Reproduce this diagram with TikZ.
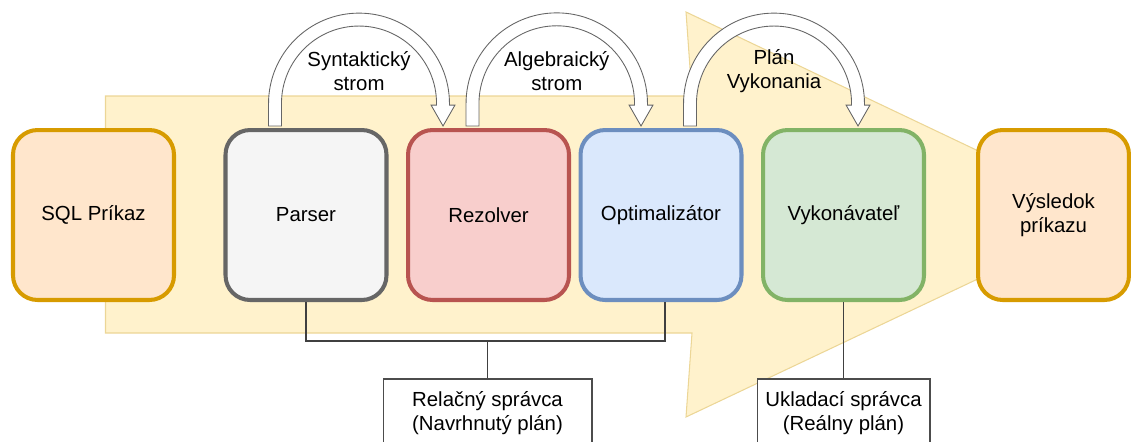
\documentclass[tikz,border=0pt]{standalone}
\usepackage{fontspec}
\setmainfont{Liberation Sans}
\usetikzlibrary{calc}

\definecolor{orangefill}{RGB}{255, 230, 204}
\definecolor{orangeline}{RGB}{215, 155, 0}
\definecolor{grayfill}{RGB}{245, 245, 245}
\definecolor{grayline}{RGB}{102, 102, 102}
\definecolor{redfill}{RGB}{248, 206, 204}
\definecolor{redline}{RGB}{184, 84, 80}
\definecolor{bluefill}{RGB}{218, 232, 252}
\definecolor{blueline}{RGB}{108, 142, 191}
\definecolor{greenfill}{RGB}{213, 232, 212}
\definecolor{greenline}{RGB}{130, 179, 102}
\definecolor{flowfill}{RGB}{255, 242, 204}
\definecolor{flowline}{RGB}{236, 214, 150}

\newcommand{\diafont}{\fontsize{11.6}{13.6}\selectfont}

\tikzset{
  stage/.style={draw, rounded corners=14pt, line width=2.3pt, minimum width=3.22cm,
    minimum height=3.4cm, align=center, font=\diafont},
  manager/.style={draw=black!70, fill=white, line width=0.6pt, minimum height=1.36cm,
    align=center, font=\diafont},
  hollow/.style={draw=black!60, fill=white, line width=0.5pt},
  archlabel/.style={align=center, font=\diafont, inner sep=0pt},
  wire/.style={draw=black!75, line width=0.8pt}
}

\begin{document}
\begin{tikzpicture}[x=0.02cm, y=0.02cm]
    \useasboundingbox (0,0) rectangle (1131,441);
    \clip (0,0) rectangle (1131,441);

    % big flow arrow in the back
    \filldraw[fill=flowfill, draw=flowline, line width=0.6pt]
        (105.5,345) -- (692,345) -- (686,429) -- (1113,226) -- (686,24)
        -- (692,108) -- (105.5,108) -- cycle;

    % stages
    \node[stage, fill=orangefill, draw=orangeline] (sql) at (93.5,226) {SQL Príkaz};
    \node[stage, fill=grayfill, draw=grayline] (parser) at (306,226) {Parser};
    \node[stage, fill=redfill, draw=redline] (rezolver) at (488.5,226) {Rezolver};
    \node[stage, fill=bluefill, draw=blueline] (optim) at (661,226) {Optimalizátor};
    \node[stage, fill=greenfill, draw=greenline] (vykon) at (843.5,226) {Vykonávateľ};
    \node[stage, fill=orangefill, draw=orangeline, minimum width=3.02cm] (vysledok)
        at (1053.5,226) {Výsledok\\príkazu};

    % feet and tips of the hollow arcs
    \coordinate (s1) at ($(parser.north)+(-31,2)$);
    \coordinate (e1) at ($(rezolver.north)+(-45.5,2)$);
    \coordinate (s2) at ($(rezolver.north)+(-16,2)$);
    \coordinate (e2) at ($(optim.north)+(-20,2)$);
    \coordinate (s3) at ($(optim.north)+(29,2)$);
    \coordinate (e3) at ($(vykon.north)+(14.5,2)$);

    \foreach \a/\b in {s1/e1, s2/e2, s3/e3}{
        \draw[hollow] let \p1=(\a), \p2=(\b), \n1={0.5*(\x2-\x1)} in
            (\x1-3.68pt,\y1) -- (\x1-3.68pt,\y1+12.76pt)
            arc[start angle=180, end angle=0, radius=\n1+3.68pt]
            -- (\x2+3.68pt,\y2+11.9pt) -- (\x2+6.8pt,\y2+11.9pt) -- (\x2,\y2)
            -- (\x2-6.8pt,\y2+11.9pt) -- (\x2-3.68pt,\y2+11.9pt) -- (\x2-3.68pt,\y2+12.76pt)
            arc[start angle=0, end angle=180, radius=\n1-3.68pt]
            -- (\x1+3.68pt,\y1) -- cycle;
    }

    \node[archlabel] (syntax) at ($(s1)!0.5!(e1)+(0,55)$) {Syntaktický\\strom};
    \node[archlabel] (algebra) at ($(s2)!0.5!(e2)+(0,55)$) {Algebraický\\strom};
    \node[archlabel] (plan) at ($(s3)!0.5!(e3)+(0,55)$) {Plán\\Vykonania};

    % managers below
    \node[manager, minimum width=4.18cm] (relacny) at (487.5,28)
        {Relačný správca\\(Navrhnutý plán)};
    \node[manager, minimum width=3.46cm] (ukladaci) at (843.5,28)
        {Ukladací správca\\(Reálny plán)};

    \coordinate (bus) at (relacny.north |- 0,100);
    \draw[wire] (parser.south) |- (bus) -| ($(optim.south)+(4,0)$);
    \draw[wire] (bus) -- (relacny.north);
    \draw[wire] (vykon.south) -- (ukladaci.north);
\end{tikzpicture}
\end{document}
